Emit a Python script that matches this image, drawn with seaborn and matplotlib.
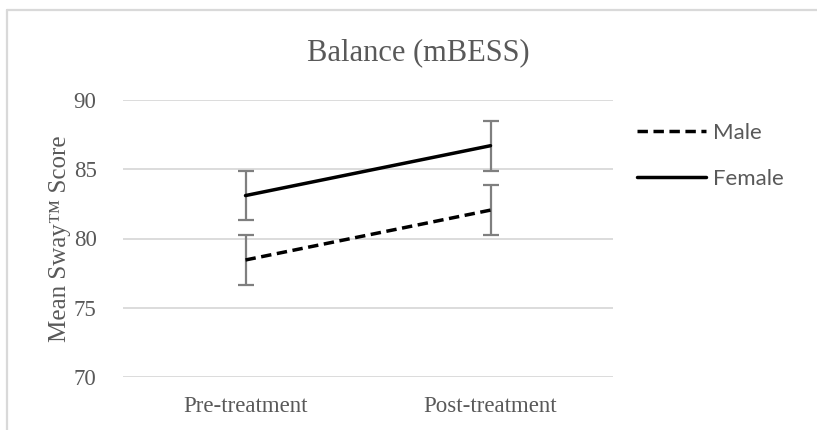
import matplotlib
matplotlib.use("Agg")
import matplotlib.pyplot as plt
import matplotlib.lines as mlines
import seaborn as sns
import pandas as pd

# data
timepoints = ["Pre-treatment", "Post-treatment"]
male_mean = [78.45, 82.05]
male_err = [1.8, 1.8]
female_mean = [83.1, 86.7]
female_err = [1.78, 1.8]
yticks = [70, 75, 80, 85, 90]

df = pd.DataFrame({
    "time": timepoints * 2,
    "x": [0, 1] * 2,
    "score": male_mean + female_mean,
    "group": ["Male"] * 2 + ["Female"] * 2,
})

sns.set_style("white")
plt.rcParams["font.family"] = ["Liberation Serif", "DejaVu Serif"]

grey = "#595959"
fig = plt.figure(figsize=(8.17, 4.30), dpi=100)
ax = fig.add_axes([123 / 817, 1 - 377 / 430, 490 / 817, 277 / 430])

# grid lines
for t in yticks:
    ax.axhline(t, color="#d9d9d9", lw=1.3, zorder=0)

# error bars (drawn underneath lines)
ax.errorbar(df["x"][:2], male_mean, yerr=male_err, fmt="none",
            ecolor="#7f7f7f", elinewidth=1.6, capsize=5.5, capthick=1.6, zorder=1)
ax.errorbar(df["x"][2:], female_mean, yerr=female_err, fmt="none",
            ecolor="#7f7f7f", elinewidth=1.6, capsize=5.5, capthick=1.6, zorder=1)

sns.lineplot(data=df, x="x", y="score", hue="group", style="group",
             palette={"Male": "black", "Female": "black"},
             dashes={"Male": (3.0, 1.6), "Female": ""},
             linewidth=2.5, legend=False, ax=ax, zorder=3)

ax.set_xlim(-0.5, 1.5)
ax.set_ylim(70, 90)
ax.set_yticks(yticks)
ax.set_xticks([0, 1])
ax.set_xticklabels(timepoints)
ax.tick_params(axis="both", length=0, labelsize=16.5, colors=grey)
ax.tick_params(axis="y", pad=19)
ax.tick_params(axis="x", pad=14)
for s in ax.spines.values():
    s.set_visible(False)
ax.set_xlabel("")
ax.set_ylabel("Mean Sway\u2122 Score", fontsize=18, color=grey, labelpad=2)

fig.text(418 / 817, 1 - 53 / 430, "Balance (mBESS)", fontsize=22, color=grey,
         ha="center", va="center")

# legend
h_male = mlines.Line2D([], [], color="black", lw=2.5, dashes=(3.0, 1.6))
h_female = mlines.Line2D([], [], color="black", lw=2.5)
leg = fig.legend([h_male, h_female], ["Male", "Female"],
                 loc="center left", bbox_to_anchor=(617 / 817, 1 - 156 / 430),
                 frameon=False, handlelength=3.1, handletextpad=0.3,
                 labelspacing=1.15, prop={"family": "Lato", "size": 16})
for t in leg.get_texts():
    t.set_color(grey)

# light frame on top and left like the original chart box
fig.add_artist(mlines.Line2D([7 / 817, 1], [1 - 9.5 / 430] * 2, color="#d9d9d9",
                             lw=1.6, transform=fig.transFigure))
fig.add_artist(mlines.Line2D([7 / 817] * 2, [0, 1 - 9.5 / 430], color="#d9d9d9",
                             lw=1.6, transform=fig.transFigure))

fig.savefig("out.png", dpi=100, facecolor="white")
